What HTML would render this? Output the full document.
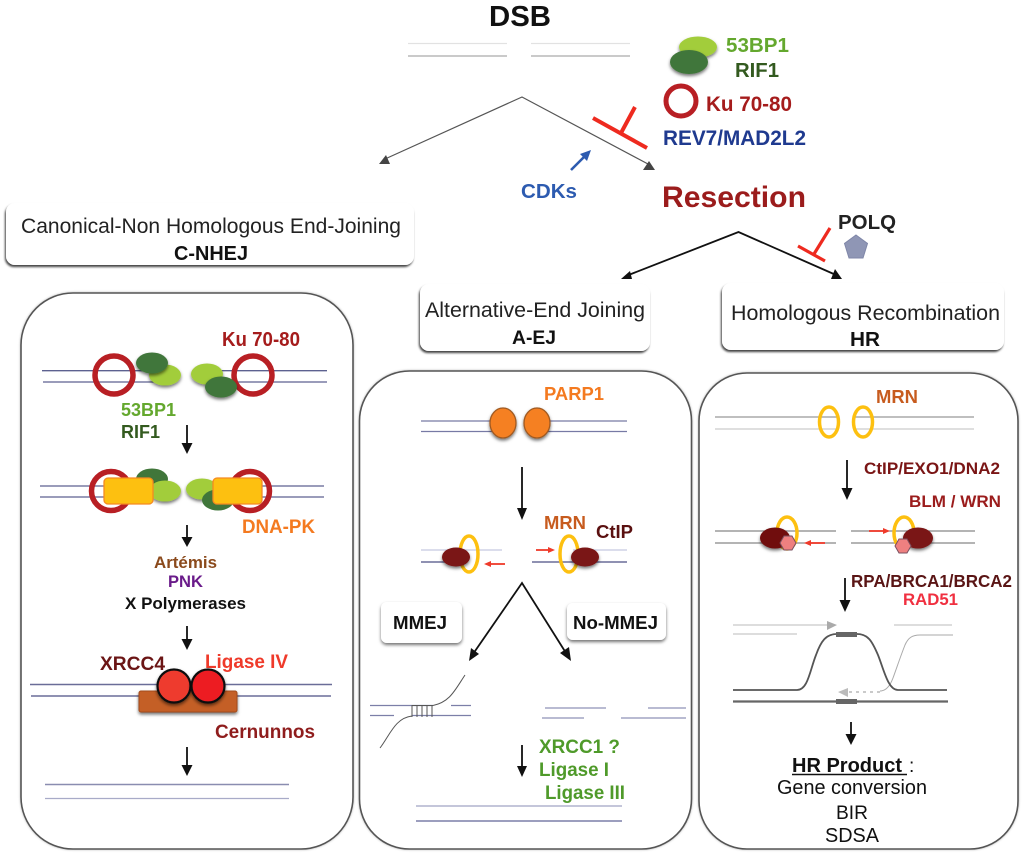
<!DOCTYPE html>
<html>
<head>
<meta charset="utf-8">
<style>
html,body{margin:0;padding:0;background:#fff;}
svg{display:block;filter:blur(.35px);}
text{font-family:"Liberation Sans",sans-serif;font-weight:bold;}
.r{font-weight:normal;}
</style>
</head>
<body>
<svg width="1024" height="854" viewBox="0 0 1024 854" xmlns="http://www.w3.org/2000/svg">
<defs>
<filter id="s" x="-30%" y="-30%" width="160%" height="170%"><feDropShadow dx="0" dy="2" stdDeviation="1.6" flood-color="#000" flood-opacity=".55"/></filter>
<filter id="b" x="-10%" y="-10%" width="120%" height="125%"><feDropShadow dx="-1" dy="2" stdDeviation="1" flood-color="#000" flood-opacity=".75"/></filter>
<filter id="p" x="-5%" y="-5%" width="110%" height="110%"><feDropShadow dx="0" dy="0" stdDeviation="1" flood-color="#000" flood-opacity=".3"/></filter>
</defs>

<!-- Top -->
<text x="489" y="26" font-size="29" textLength="62" lengthAdjust="spacingAndGlyphs" fill="#111">DSB</text>
<g stroke-width="1.2" fill="none">
<path d="M408 43.500H507M531 43.500H630" stroke="#e2e2e2"/>
<path d="M408 56H507M531 56H630" stroke="#aaa"/>
</g>
<ellipse cx="698" cy="47" rx="19" ry="10.500" fill="#a2cd3a" filter="url(#s)"/>
<ellipse cx="689" cy="62" rx="19" ry="12" fill="#40763a" filter="url(#s)"/>
<text x="726" y="52" font-size="20.500" textLength="63" lengthAdjust="spacingAndGlyphs" fill="#64a82e">53BP1</text>
<text x="735" y="77" font-size="20" textLength="44" lengthAdjust="spacingAndGlyphs" fill="#335a1f">RIF1</text>
<circle cx="681" cy="101" r="15" fill="none" stroke="#b81f24" stroke-width="5"/>
<text x="706" y="111" font-size="21" textLength="86" lengthAdjust="spacingAndGlyphs" fill="#a51c1c">Ku 70-80</text>
<text x="663" y="145" font-size="21" textLength="143" lengthAdjust="spacingAndGlyphs" fill="#1f3a8f">REV7/MAD2L2</text>

<path d="M385 159L522 97L648 164" fill="none" stroke="#555" stroke-width="1.200"/>
<path d="M379 164H390L386 155Z" fill="#444"/>
<path d="M643 170H655L649 161Z" fill="#444"/>
<path d="M593 118L647 148M635 107L621 133" stroke="#ee2a1f" stroke-width="4" fill="none"/>
<path d="M571 170L586 155" stroke="#2d5bb0" stroke-width="2.600" fill="none"/>
<path d="M591 150L587 161L580 154Z" fill="#2d5bb0"/>
<text x="521" y="198" font-size="20" textLength="56" lengthAdjust="spacingAndGlyphs" fill="#2d5bb0">CDKs</text>
<text x="662" y="207" font-size="30" textLength="144" lengthAdjust="spacingAndGlyphs" fill="#9b1c1c">Resection</text>

<path d="M626 276L738.500 232L836 275" fill="none" stroke="#111" stroke-width="1.800"/>
<path d="M621 279H632L630 271Z" fill="#111"/>
<path d="M831 279H842L835 269Z" fill="#111"/>
<path d="M798 246L825 261M830 228L814 254" stroke="#ee2a1f" stroke-width="3.200" fill="none"/>
<text x="838" y="229" font-size="20.500" textLength="58" lengthAdjust="spacingAndGlyphs" fill="#222">POLQ</text>
<path d="M856 235L867.500 243.500L863 258H849L844.500 243.500Z" fill="#8f96b5" stroke="#7f86a8"/>

<!-- Title boxes -->
<rect x="6" y="203" width="408" height="62" rx="9" fill="#fff" filter="url(#b)"/>
<text class="r" x="21" y="233" font-size="21" textLength="380" lengthAdjust="spacingAndGlyphs" fill="#222">Canonical-Non Homologous End-Joining</text>
<text x="174" y="260" font-size="20" textLength="74" lengthAdjust="spacingAndGlyphs" fill="#111">C-NHEJ</text>

<rect x="420" y="284" width="230" height="67" rx="9" fill="#fff" filter="url(#b)"/>
<text class="r" x="425" y="317" font-size="21" textLength="220" lengthAdjust="spacingAndGlyphs" fill="#222">Alternative-End Joining</text>
<text x="512" y="344" font-size="19" textLength="44" lengthAdjust="spacingAndGlyphs" fill="#111">A-EJ</text>

<rect x="722" y="283" width="282" height="67" rx="9" fill="#fff" filter="url(#b)"/>
<text class="r" x="731" y="320" font-size="21" textLength="269" lengthAdjust="spacingAndGlyphs" fill="#222">Homologous Recombination</text>
<text x="850" y="346" font-size="20.500" textLength="30" lengthAdjust="spacingAndGlyphs" fill="#111">HR</text>

<!-- Panels -->
<g fill="#fff" stroke="#555" stroke-width="1.600" filter="url(#p)">
<rect x="21" y="293" width="332" height="556" rx="52"/>
<rect x="359.500" y="371" width="332" height="478" rx="50"/>
<rect x="699" y="373" width="319" height="476" rx="48"/>
</g>

<!-- LEFT PANEL -->
<text x="222" y="346" font-size="20.500" textLength="78" lengthAdjust="spacingAndGlyphs" fill="#a51c1c">Ku 70-80</text>
<path d="M42 370.700H155M215 370.700H327M43 382H155M215 382H327" stroke="#5d6190" stroke-width="1.300" fill="none"/>
<circle cx="114" cy="375" r="19" fill="none" stroke="#b81f24" stroke-width="5.500"/>
<circle cx="253" cy="375" r="19" fill="none" stroke="#b81f24" stroke-width="5.500"/>
<ellipse cx="165" cy="375" rx="16" ry="10.500" fill="#a2cd3a" filter="url(#s)"/>
<ellipse cx="152" cy="363" rx="16" ry="10.500" fill="#40763a" filter="url(#s)"/>
<ellipse cx="207" cy="374" rx="16" ry="10.500" fill="#a2cd3a" filter="url(#s)"/>
<ellipse cx="221" cy="387" rx="16" ry="10.500" fill="#40763a" filter="url(#s)"/>
<text x="121" y="416" font-size="18" textLength="55" lengthAdjust="spacingAndGlyphs" fill="#64a82e">53BP1</text>
<text x="121" y="438" font-size="18" textLength="39" lengthAdjust="spacingAndGlyphs" fill="#335a1f">RIF1</text>
<path d="M187 425V445" stroke="#111" stroke-width="1.800"/>
<path d="M181.500 443H192.500L187 454Z" fill="#111"/>

<path d="M40 486H155M215 486H324M40 497H155M215 497H324" stroke="#5d6190" stroke-width="1.300" fill="none"/>
<circle cx="111" cy="491" r="19.500" fill="none" stroke="#b81f24" stroke-width="5.500"/>
<circle cx="250" cy="491" r="19.500" fill="none" stroke="#b81f24" stroke-width="5.500"/>
<ellipse cx="152" cy="479" rx="16" ry="10.500" fill="#40763a"/>
<ellipse cx="165" cy="491" rx="16" ry="10.500" fill="#a2cd3a" filter="url(#s)"/>
<ellipse cx="202" cy="489" rx="16" ry="10.500" fill="#a2cd3a" filter="url(#s)"/>
<ellipse cx="218" cy="500" rx="16" ry="10.500" fill="#40763a"/>
<rect x="104" y="478" width="49" height="26" rx="4" fill="#fdc010" stroke="#f58a20" stroke-width="1.300"/>
<rect x="213" y="478" width="49" height="26" rx="4" fill="#fdc010" stroke="#f58a20" stroke-width="1.300"/>
<text x="242" y="533" font-size="19" textLength="73" lengthAdjust="spacingAndGlyphs" fill="#f47a20">DNA-PK</text>
<path d="M187 525V540" stroke="#111" stroke-width="1.800"/>
<path d="M181.500 537H192.500L187 547Z" fill="#111"/>
<text x="154" y="568" font-size="17" textLength="63" lengthAdjust="spacingAndGlyphs" fill="#8b4a1c">Artémis</text>
<text x="168" y="587" font-size="16.500" textLength="35" lengthAdjust="spacingAndGlyphs" fill="#6a1b8a">PNK</text>
<text x="125" y="609" font-size="17" textLength="121" lengthAdjust="spacingAndGlyphs" fill="#111">X Polymerases</text>
<path d="M187 626V642" stroke="#111" stroke-width="1.800"/>
<path d="M181.500 639H192.500L187 650Z" fill="#111"/>
<text x="100" y="670" font-size="19" textLength="65" lengthAdjust="spacingAndGlyphs" fill="#6b1515">XRCC4</text>
<text x="205" y="668" font-size="19" textLength="83" lengthAdjust="spacingAndGlyphs" fill="#ef3a2a">Ligase IV</text>
<path d="M30 684.500H332M31 696H331" stroke="#6a6d98" stroke-width="1.400" fill="none"/>
<rect x="139" y="691" width="98" height="21" rx="2" fill="#c45f25" stroke="#a24c1a" filter="url(#s)"/>
<circle cx="174" cy="686" r="16.500" fill="#ee3b2e" stroke="#111" stroke-width="2.200" filter="url(#s)"/>
<circle cx="208" cy="686" r="16.500" fill="#ed1c24" stroke="#111" stroke-width="2.200" filter="url(#s)"/>
<text x="215" y="738" font-size="19" textLength="100" lengthAdjust="spacingAndGlyphs" fill="#8f1d1d">Cernunnos</text>
<path d="M187 747V767" stroke="#111" stroke-width="1.800"/>
<path d="M181.500 765H192.500L187 776Z" fill="#111"/>
<path d="M45 784.500H289" stroke="#8a8db0" stroke-width="1.500" fill="none"/>
<path d="M45 798.500H289" stroke="#a8abc8" stroke-width="1.200" fill="none"/>

<!-- MIDDLE PANEL -->
<text x="544" y="400" font-size="18" textLength="60" lengthAdjust="spacingAndGlyphs" fill="#f47a20">PARP1</text>
<path d="M421 421H495M545 421H627M421 431.500H495M545 431.500H627" stroke="#777aa5" stroke-width="1.300" fill="none"/>
<ellipse cx="503" cy="423" rx="13" ry="15" fill="#f58024" stroke="#a05a20" stroke-width="1.300" filter="url(#s)"/>
<ellipse cx="537" cy="423" rx="13" ry="15" fill="#f58024" stroke="#a05a20" stroke-width="1.300" filter="url(#s)"/>
<path d="M522 467V510" stroke="#111" stroke-width="1.800"/>
<path d="M517 508H527L522 520Z" fill="#111"/>
<text x="544" y="529" font-size="18" textLength="42" lengthAdjust="spacingAndGlyphs" fill="#c75b1e">MRN</text>
<text x="596" y="538" font-size="18" textLength="37" lengthAdjust="spacingAndGlyphs" fill="#5a1010">CtIP</text>
<path d="M421 550H502M573 550H627" stroke="#cfd2e6" stroke-width="1.500" fill="none"/>
<path d="M421 562H465M532 562H627" stroke="#6a6d98" stroke-width="1.400" fill="none"/>
<ellipse cx="469" cy="554" rx="9" ry="18" fill="none" stroke="#fdc010" stroke-width="3.500"/>
<ellipse cx="569" cy="554" rx="9" ry="18" fill="none" stroke="#fdc010" stroke-width="3.500"/>
<ellipse cx="456" cy="557" rx="14" ry="9.500" fill="#7a1212" filter="url(#s)"/>
<ellipse cx="585" cy="557" rx="14" ry="9.500" fill="#7a1212" filter="url(#s)"/>
<path d="M505 564H490" stroke="#ef3a2a" stroke-width="1.800"/>
<path d="M484 564L491 561V567Z" fill="#ef3a2a"/>
<path d="M536 550H549" stroke="#ef3a2a" stroke-width="1.800"/>
<path d="M555 550L548 547V553Z" fill="#ef3a2a"/>
<path d="M473 654L522 583L566 653" fill="none" stroke="#111" stroke-width="1.800"/>
<path d="M469 661L471 648L479 654Z" fill="#111"/>
<path d="M571 661L560 653L569 647Z" fill="#111"/>
<rect x="381" y="602" width="81" height="41" rx="6" fill="#fff" filter="url(#s)"/>
<rect x="567" y="603" width="99" height="37" rx="6" fill="#fff" filter="url(#s)"/>
<text x="393" y="629" font-size="18.500" textLength="54" lengthAdjust="spacingAndGlyphs" fill="#111">MMEJ</text>
<text x="573" y="629" font-size="18.500" textLength="85" lengthAdjust="spacingAndGlyphs" fill="#111">No-MMEJ</text>
<path d="M370 705.500H433M451 705.500H471M370 715.500H394M412 715.500H471" stroke="#7c7fa8" stroke-width="1.200" fill="none"/>
<path d="M433 705.500C450 702 455 690 465 675M412 716C395 718 390 735 380 748" fill="none" stroke="#555" stroke-width="1"/>
<path d="M412 705V717M417 705V717M422 705V717M427 705V717M432 705V717" stroke="#555" stroke-width="1" fill="none"/>
<path d="M412 705.500H433" stroke="#555" stroke-width="1"/>
<path d="M545 708H606M648 708H686M542 718H584M621 718H686" stroke="#8f92b8" stroke-width="1.200" fill="none"/>
<path d="M522 745V768" stroke="#111" stroke-width="1.800"/>
<path d="M517 766H527L522 777Z" fill="#111"/>
<text x="539" y="753" font-size="19" textLength="81" lengthAdjust="spacingAndGlyphs" fill="#4f9a2a">XRCC1 ?</text>
<text x="539" y="776" font-size="19" textLength="70" lengthAdjust="spacingAndGlyphs" fill="#4f9a2a">Ligase I</text>
<text x="545" y="799" font-size="19" textLength="80" lengthAdjust="spacingAndGlyphs" fill="#4f9a2a">Ligase III</text>
<path d="M416 806H622" stroke="#a0a3c4" stroke-width="1.300" fill="none"/>
<path d="M416 821H622" stroke="#7c7fa8" stroke-width="1.600" fill="none"/>

<!-- RIGHT PANEL -->
<text x="876" y="403" font-size="18" textLength="42" lengthAdjust="spacingAndGlyphs" fill="#c75b1e">MRN</text>
<path d="M715 417H838M854 417H974" stroke="#999" stroke-width="1.300" fill="none"/>
<path d="M715 429H838M854 429H974" stroke="#ccc" stroke-width="1.200" fill="none"/>
<ellipse cx="829" cy="422" rx="9.500" ry="15" fill="none" stroke="#fdc010" stroke-width="3.500"/>
<ellipse cx="863" cy="422" rx="9.500" ry="15" fill="none" stroke="#fdc010" stroke-width="3.500"/>
<path d="M847 460V490" stroke="#111" stroke-width="1.800"/>
<path d="M841.500 488H852.500L847 500Z" fill="#111"/>
<text x="864" y="474" font-size="17" textLength="136" lengthAdjust="spacingAndGlyphs" fill="#7a1515">CtIP/EXO1/DNA2</text>
<text x="909" y="507" font-size="17" textLength="92" lengthAdjust="spacingAndGlyphs" fill="#9b1c1c">BLM / WRN</text>
<path d="M715 531H836M851 531H975M715 543H836M851 543H975" stroke="#888" stroke-width="1.200" fill="none"/>
<ellipse cx="787" cy="533" rx="10" ry="16" fill="none" stroke="#fdc010" stroke-width="3.500"/>
<ellipse cx="904" cy="533" rx="10" ry="16" fill="none" stroke="#fdc010" stroke-width="3.500"/>
<ellipse cx="775" cy="538" rx="15" ry="10.500" fill="#6f1010" filter="url(#s)"/>
<ellipse cx="918" cy="538" rx="15" ry="10.500" fill="#7a1212" filter="url(#s)"/>
<path d="M780 543L784 536H792L796 543L792 550H784Z" fill="#ee8080" stroke="#7a5060"/>
<path d="M895 546L899 539H907L911 546L907 553H899Z" fill="#ee8080" stroke="#7a5060"/>
<path d="M825 543H810" stroke="#ef3a2a" stroke-width="1.800"/>
<path d="M804 543L811 540V546Z" fill="#ef3a2a"/>
<path d="M869 531H884" stroke="#ef3a2a" stroke-width="1.800"/>
<path d="M890 531L883 528V534Z" fill="#ef3a2a"/>
<text x="851" y="587" font-size="17.500" textLength="161" lengthAdjust="spacingAndGlyphs" fill="#5a1515">RPA/BRCA1/BRCA2</text>
<text x="903" y="605" font-size="17" textLength="55" lengthAdjust="spacingAndGlyphs" fill="#f03040">RAD51</text>
<path d="M845 578V602" stroke="#111" stroke-width="1.800"/>
<path d="M839.500 600H850.500L845 612Z" fill="#111"/>

<path d="M733 625H828M894 625H952M733 634H797" stroke="#bbb" stroke-width="1.100" fill="none"/>
<path d="M837 625L827 621V630Z" fill="#aaa"/>
<path d="M953 635H920C912 635 908 638 905 645C901 655 897 667 893 678C890 686 886 691 880 691" fill="none" stroke="#aaa" stroke-width="1"/>
<path d="M880 692H848" fill="none" stroke="#aaa" stroke-width="1.200" stroke-dasharray="3 4"/>
<path d="M838 692L848 688V697Z" fill="#bbb"/>
<path d="M733 690H797C808 690 810 670 816 655C821 641 826 634 837 634H857C868 634 872 641 878 655C884 670 888 690 898 690H947" fill="none" stroke="#555" stroke-width="1.800"/>
<path d="M733 701.500H948" stroke="#666" stroke-width="2.200" fill="none"/>
<rect x="836" y="632" width="21" height="5" fill="#666"/>
<rect x="836" y="699" width="21" height="5" fill="#666"/>
<path d="M851 722V736" stroke="#111" stroke-width="1.800"/>
<path d="M845.500 734H856.500L851 745Z" fill="#111"/>
<text x="792" y="772" font-size="20" textLength="110" lengthAdjust="spacingAndGlyphs" fill="#111">HR Product</text>
<path d="M792 774.500H907" stroke="#111" stroke-width="1.500"/>
<text x="909" y="772" font-size="19" fill="#111" class="r">:</text>
<text class="r" x="777" y="794" font-size="20" textLength="150" lengthAdjust="spacingAndGlyphs" fill="#111">Gene conversion</text>
<text class="r" x="836" y="819" font-size="19" textLength="32" lengthAdjust="spacingAndGlyphs" fill="#111">BIR</text>
<text class="r" x="825" y="842" font-size="20" textLength="54" lengthAdjust="spacingAndGlyphs" fill="#111">SDSA</text>
</svg>
</body>
</html>
